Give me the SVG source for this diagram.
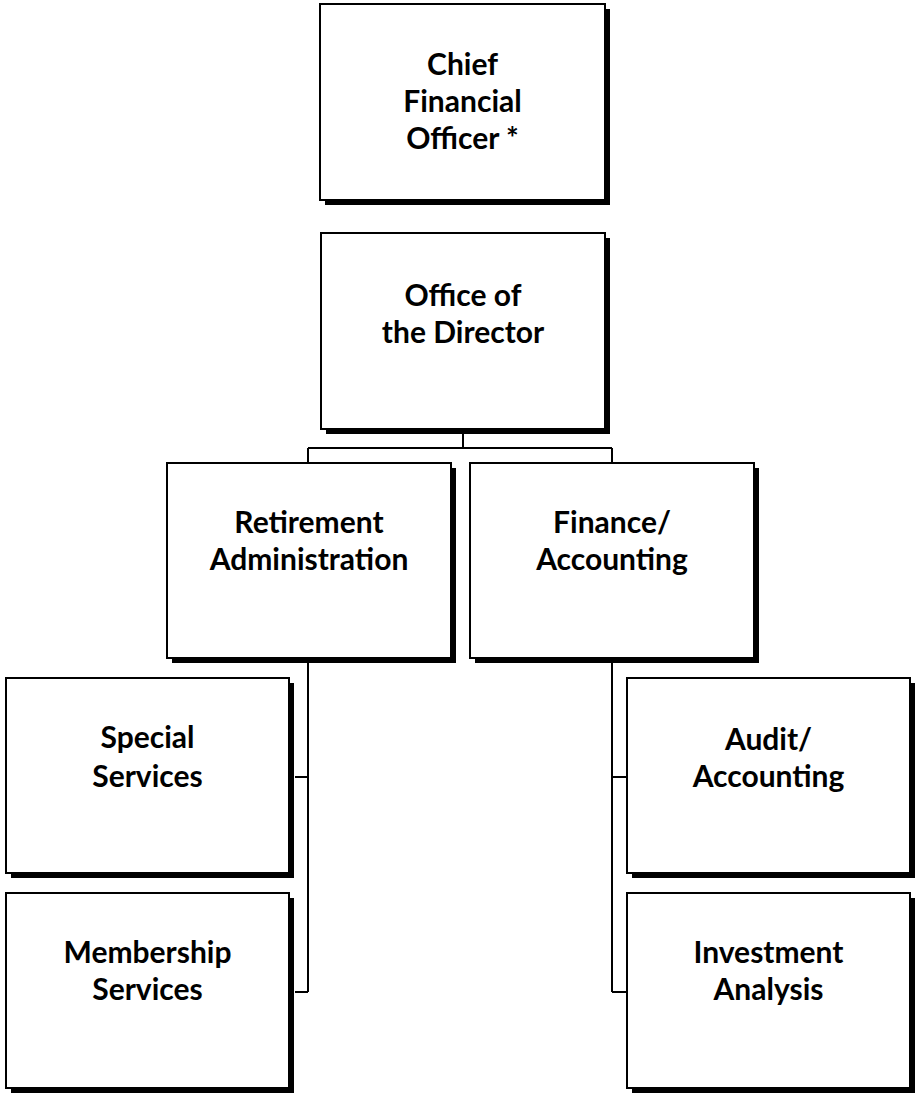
<svg xmlns="http://www.w3.org/2000/svg" width="915" height="1093" viewBox="0 0 915 1093">
<style>
.sh{fill:#000}
.bx{fill:#fff;stroke:#000;stroke-width:2}
.t{font-family:Lato,"Open Sans","Liberation Sans",sans-serif;font-weight:700;font-size:30px;fill:#000;text-anchor:middle}
.c{fill:none;stroke:#000;stroke-width:2}
</style>
<rect width="915" height="1093" fill="#fff"/>
<g id="connectors">
<path class="c" d="M463 430V448M308 448H612M308 448V463M612 448V463"/>
<path class="c" d="M308 659V992M295 777H308M295 992H308"/>
<path class="c" d="M612 659V992M612 777H627M612 992H627"/>
</g>
<g id="cfo">
<rect class="sh" x="325" y="9" width="285" height="196"/>
<rect class="bx" x="320" y="4" width="285" height="196"/>
<text class="t" x="462.5" y="75">Chief</text>
<text class="t" x="462.5" y="112">Financial</text>
<text class="t" x="462.5" y="149">Officer *</text>
</g>
<g id="director">
<rect class="sh" x="326" y="238" width="284" height="196"/>
<rect class="bx" x="321" y="233" width="284" height="196"/>
<text class="t" x="463" y="306">Office of</text>
<text class="t" x="463" y="343">the Director</text>
</g>
<g id="retirement">
<rect class="sh" x="172" y="468" width="284" height="195"/>
<rect class="bx" x="167" y="463" width="284" height="195"/>
<text class="t" x="309" y="533">Retirement</text>
<text class="t" x="309" y="570">Administration</text>
</g>
<g id="finance">
<rect class="sh" x="475" y="468" width="284" height="195"/>
<rect class="bx" x="470" y="463" width="284" height="195"/>
<text class="t" x="612" y="533">Finance/</text>
<text class="t" x="612" y="570">Accounting</text>
</g>
<g id="special">
<rect class="sh" x="11" y="683" width="283" height="195"/>
<rect class="bx" x="6" y="678" width="283" height="195"/>
<text class="t" x="147.5" y="748">Special</text>
<text class="t" x="147.5" y="787">Services</text>
</g>
<g id="membership">
<rect class="sh" x="11" y="898" width="283" height="195"/>
<rect class="bx" x="6" y="893" width="283" height="195"/>
<text class="t" x="147.5" y="963">Membership</text>
<text class="t" x="147.5" y="1000">Services</text>
</g>
<g id="audit">
<rect class="sh" x="632" y="683" width="283" height="195"/>
<rect class="bx" x="627" y="678" width="283" height="195"/>
<text class="t" x="768.5" y="750">Audit/</text>
<text class="t" x="768.5" y="787">Accounting</text>
</g>
<g id="investment">
<rect class="sh" x="632" y="898" width="283" height="195"/>
<rect class="bx" x="627" y="893" width="283" height="195"/>
<text class="t" x="768.5" y="963">Investment</text>
<text class="t" x="768.5" y="1000">Analysis</text>
</g>
</svg>
